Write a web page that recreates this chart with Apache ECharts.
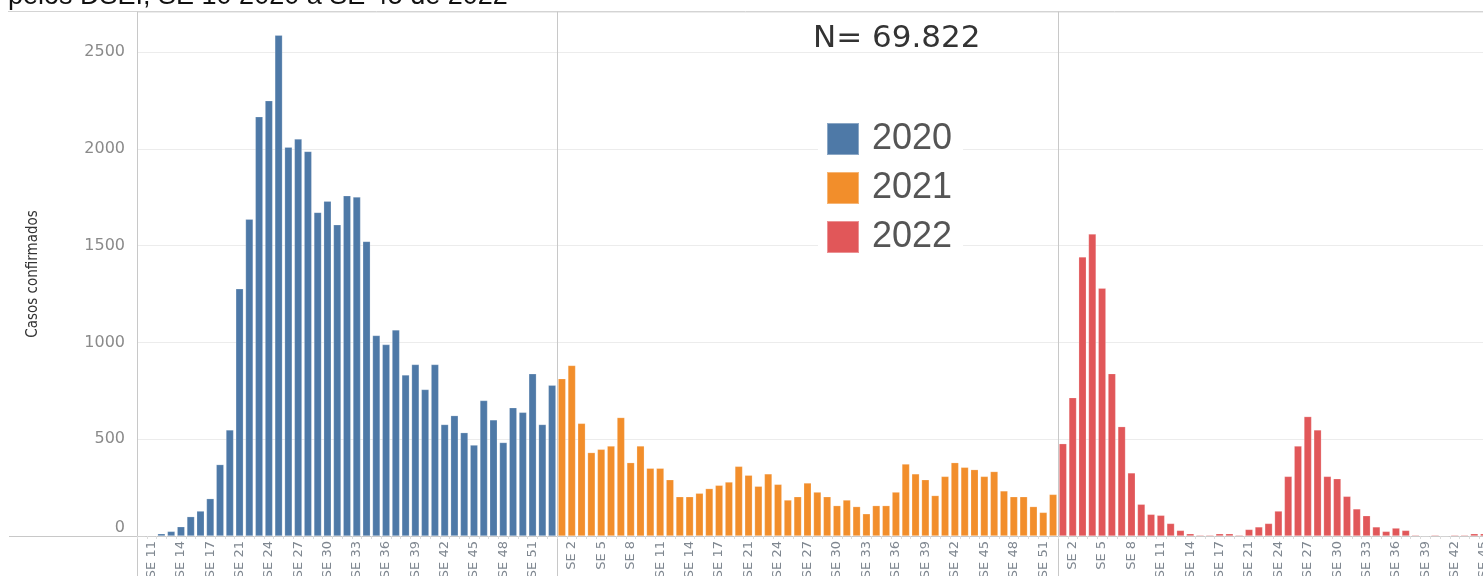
<!DOCTYPE html>
<html>
<head>
<meta charset="utf-8">
<script src="https://cdn.jsdelivr.net/npm/echarts@6/dist/echarts.min.js"></script>
<style>
  html, body { margin: 0; padding: 0; background: #fff; overflow: hidden; }
  #chart { width: 1483px; height: 576px; }
</style>
</head>
<body>
<div id="chart"></div>
<script>
// ---- Data ----
const titleLine = 'pelos DSEI, SE 10 2020 a SE 45 de 2022';
const totalLabel = 'N= 69.822';
const yAxisName = 'Casos confirmados';
const seriesNames = ['2020', '2021', '2022'];

const weeks2020 = ['SE 10','SE 11','SE 12','SE 13','SE 14','SE 15','SE 16','SE 17','SE 18','SE 19',
  'SE 21','SE 22','SE 23','SE 24','SE 25','SE 26','SE 27','SE 28','SE 29','SE 30','SE 31','SE 32',
  'SE 33','SE 34','SE 35','SE 36','SE 37','SE 38','SE 39','SE 40','SE 41','SE 42','SE 43','SE 44',
  'SE 45','SE 46','SE 47','SE 48','SE 49','SE 50','SE 51','SE 52','SE 53'];
const cases2020 = [1, 2, 12, 24, 48, 100, 129, 193, 369, 548,
  1277, 1637, 2166, 2249, 2587, 2009, 2051, 1987, 1672, 1730, 1608, 1758,
  1751, 1522, 1036, 989, 1065, 832, 886, 757, 886, 576, 622, 534,
  470, 700, 600, 483, 663, 639, 838, 576, 779];
const ticks2020 = ['SE 11','SE 14','SE 17','SE 21','SE 24','SE 27','SE 30','SE 33','SE 36','SE 39',
  'SE 42','SE 45','SE 48','SE 51'];

const weeks2021 = ['SE 1','SE 2','SE 3','SE 4','SE 5','SE 6','SE 7','SE 8','SE 9','SE 10','SE 11',
  'SE 12','SE 13','SE 14','SE 15','SE 16','SE 17','SE 18','SE 19','SE 21','SE 22','SE 23','SE 24',
  'SE 25','SE 26','SE 27','SE 28','SE 29','SE 30','SE 31','SE 32','SE 33','SE 34','SE 35','SE 36',
  'SE 37','SE 38','SE 39','SE 40','SE 41','SE 42','SE 43','SE 44','SE 45','SE 46','SE 47','SE 48',
  'SE 49','SE 50','SE 51','SE 52'];
const cases2021 = [813, 881, 582, 431, 448, 465, 612, 379, 465, 350, 350,
  291, 203, 203, 221, 245, 262, 279, 360, 314, 257, 321, 267,
  186, 203, 274, 227, 203, 157, 186, 152, 115, 157, 157, 227,
  372, 321, 291, 209, 308, 379, 355, 343, 308, 333, 233, 203,
  203, 152, 122, 215];
const ticks2021 = ['SE 2','SE 5','SE 8','SE 11','SE 14','SE 17','SE 21','SE 24','SE 27','SE 30',
  'SE 33','SE 36','SE 39','SE 42','SE 45','SE 48','SE 51'];

const weeks2022 = ['SE 1','SE 2','SE 3','SE 4','SE 5','SE 6','SE 7','SE 8','SE 9','SE 10','SE 11',
  'SE 12','SE 13','SE 14','SE 15','SE 16','SE 17','SE 18','SE 19','SE 21','SE 22','SE 23','SE 24',
  'SE 25','SE 26','SE 27','SE 28','SE 29','SE 30','SE 31','SE 32','SE 33','SE 34','SE 35','SE 36',
  'SE 37','SE 38','SE 39','SE 40','SE 41','SE 42','SE 43','SE 44','SE 45'];
const cases2022 = [477, 715, 1442, 1560, 1280, 839, 565, 326, 164, 112, 107,
  65, 29, 12, 5, 5, 12, 12, 5, 34, 47, 65, 129,
  308, 465, 617, 548, 308, 296, 205, 140, 105, 47, 24, 41,
  29, 5, 0, 5, 0, 5, 5, 12, 12];
const ticks2022 = ['SE 2','SE 5','SE 8','SE 11','SE 14','SE 17','SE 21','SE 24','SE 27','SE 30',
  'SE 33','SE 36','SE 39','SE 42','SE 45'];

const yTicks = { min: 0, max: 2707, interval: 500 };
const colors = ['#4e79a7', '#f28e2b', '#e15759'];

// ---- Layout ----
const TOP = 12, PLOT_H = 524;
const panels = [
  { left: 137, width: 420, weeks: weeks2020, cases: cases2020, ticks: ticks2020 },
  { left: 557, width: 501, weeks: weeks2021, cases: cases2021, ticks: ticks2021 },
  { left: 1058, width: 431, weeks: weeks2022, cases: cases2022, ticks: ticks2022 }
];
const BASE = TOP + PLOT_H;
const frame = '#c8c8c8';

const chart = echarts.init(document.getElementById('chart'), null, { renderer: 'canvas' });

const option = {
  animation: false,
  backgroundColor: '#ffffff',
  title: [
    { text: titleLine, left: 8, top: -17, padding: 0,
      textStyle: { fontFamily: 'Liberation Sans', fontSize: 27, fontWeight: 'normal', color: '#111' } },
    { text: totalLabel, left: 813, top: 23, padding: 0,
      textStyle: { fontFamily: 'DejaVu Sans', fontSize: 31, fontWeight: 'normal', color: '#333' } }
  ],
  legend: {
    data: seriesNames,
    orient: 'vertical',
    left: 818, top: 113,
    padding: [8, 11, 8, 8],
    backgroundColor: '#ffffff',
    icon: 'rect',
    itemWidth: 32, itemHeight: 32, itemGap: 13,
    selectedMode: false,
    textStyle: { fontFamily: 'Liberation Sans', fontSize: 36, lineHeight: 32, color: '#555', padding: [0, 0, 0, 8] }
  },
  grid: panels.map(p => ({ left: p.left, top: TOP, width: p.width, height: PLOT_H, containLabel: false, outerBoundsMode: 'none' })),
  xAxis: panels.map((p, i) => ({
    type: 'category',
    gridIndex: i,
    data: p.weeks,
    axisLine: { show: true, lineStyle: { color: frame, width: 1 } },
    axisTick: { show: true, interval: 0, length: 3, lineStyle: { color: '#dcdcdc' } },
    axisLabel: {
      rotate: 90, margin: 5,
      interval: (idx, val) => p.ticks.includes(val),
      fontFamily: 'DejaVu Sans', fontSize: 13, color: '#7f8790'
    }
  })),
  yAxis: panels.map((p, i) => ({
    type: 'value',
    gridIndex: i,
    min: yTicks.min, max: yTicks.max, interval: yTicks.interval,
    name: i === 0 ? yAxisName : '',
    nameLocation: 'middle',
    nameGap: 96,
    nameTextStyle: { fontFamily: "'Liberation Sans Narrow', 'DejaVu Sans Condensed', 'Liberation Sans'", fontSize: 15, color: '#333' },
    axisLine: { show: true, lineStyle: { color: frame, width: 1 } },
    axisTick: { show: false },
    axisLabel: {
      show: i === 0,
      showMaxLabel: false,
      verticalAlignMinLabel: 'bottom',
      margin: 12,
      formatter: v => String(v),
      fontFamily: 'DejaVu Sans', fontSize: 16, color: '#8a8a8a'
    },
    splitLine: { show: true, lineStyle: { color: '#ececec', width: 1 } }
  })),
  series: panels.map((p, i) => ({
    name: seriesNames[i],
    type: 'bar',
    xAxisIndex: i, yAxisIndex: i,
    data: p.cases,
    barCategoryGap: '22%',
    itemStyle: { color: colors[i], borderColor: 'rgba(255,255,255,0.35)', borderWidth: 0.6 }
  })),
  graphic: [
    { type: 'line', silent: true, shape: { x1: 8, y1: TOP - 0.5, x2: 1483, y2: TOP - 0.5 }, style: { stroke: '#d4d4d4', lineWidth: 1 } },
    { type: 'line', silent: true, shape: { x1: 9, y1: BASE + 0.5, x2: panels[0].left, y2: BASE + 0.5 }, style: { stroke: frame, lineWidth: 1 } },
    ...panels.map(p => ({ type: 'line', silent: true, shape: { x1: p.left + 0.5, y1: BASE, x2: p.left + 0.5, y2: 576 }, style: { stroke: frame, lineWidth: 1 } }))
  ]
};
chart.setOption(option);
</script>
</body>
</html>
